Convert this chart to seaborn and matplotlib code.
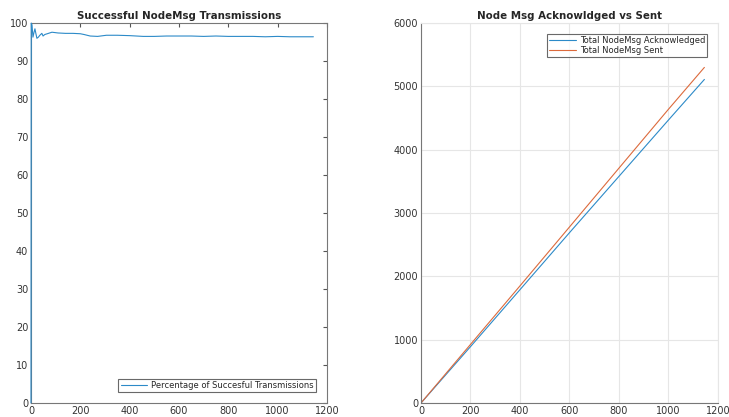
import numpy as np
import pandas as pd
import matplotlib
matplotlib.use("Agg")
import matplotlib.pyplot as plt
import seaborn as sns

# Data
t_pct = [0, 1, 4, 8, 12, 16, 20, 24, 30, 36, 44, 49, 56, 66, 85, 110, 140, 170, 200, 215,
         240, 270, 306, 350, 400, 455, 500, 550, 600, 650, 700, 750, 800, 850, 900, 950,
         1000, 1050, 1100, 1145]
pct = [0, 100, 99.5, 96.3, 97.5, 98.5, 97.2, 96.0, 96.3, 96.8, 97.3, 96.6, 97.0, 97.2,
       97.6, 97.4, 97.3, 97.3, 97.2, 97.0, 96.6, 96.5, 96.8, 96.8, 96.7, 96.5, 96.5, 96.6,
       96.6, 96.6, 96.5, 96.6, 96.5, 96.5, 96.5, 96.4, 96.5, 96.4, 96.4, 96.4]

t_tot = [0, 200, 400, 600, 800, 1000, 1145]
ack = [0, 890, 1790, 2690, 3580, 4470, 5110]
sent = [0, 925, 1850, 2780, 3710, 4640, 5300]

blue = "#2c8ac8"
orange = "#dc6a3c"

sns.set_style("white")
plt.rcParams["font.family"] = ["DejaVu Sans"]
plt.rcParams["font.size"] = 7

fig = plt.figure(figsize=(7.29, 4.17), dpi=100)
ax1 = fig.add_axes([0.0425, 0.0336, 0.406, 0.911])
ax2 = fig.add_axes([0.5775, 0.0336, 0.4074, 0.911])

# left: percentage
df1 = pd.DataFrame({"t": t_pct, "pct": pct})
sns.lineplot(data=df1, x="t", y="pct", ax=ax1, color=blue, linewidth=0.8,
             label="Percentage of Succesful Transmissions", zorder=3, clip_on=False)
ax1.set_xlim(0, 1200)
ax1.set_ylim(0, 100)
ax1.set_xticks(range(0, 1201, 200))
ax1.set_yticks(range(0, 101, 10))
ax1.set_xlabel("")
ax1.set_ylabel("")
ax1.set_title("Successful NodeMsg Transmissions", fontsize=7.4, fontweight="bold", pad=3)
ax1.tick_params(direction="in", length=3, colors="#555555", labelcolor="#333333",
                top=True, right=True, labelsize=7, pad=2)
for s in ax1.spines.values():
    s.set_color("#777777")
    s.set_linewidth(0.8)
leg1 = ax1.legend(loc="lower right", fancybox=False, fontsize=6, handlelength=3.2,
                  borderaxespad=1.3, borderpad=0.25, handletextpad=0.5)
leg1.get_frame().set_edgecolor("#444444")
leg1.get_frame().set_linewidth(0.8)

# right: totals
df2 = pd.DataFrame({"t": t_tot * 2, "val": ack + sent,
                    "series": ["Total NodeMsg Acknowledged"] * len(t_tot)
                    + ["Total NodeMsg Sent"] * len(t_tot)})
sns.lineplot(data=df2, x="t", y="val", hue="series", ax=ax2,
             palette=[blue, orange], linewidth=0.8)
ax2.set_xlim(0, 1200)
ax2.set_ylim(0, 6000)
ax2.set_xticks(range(0, 1201, 200))
ax2.set_yticks(range(0, 6001, 1000))
ax2.set_xlabel("")
ax2.set_ylabel("")
ax2.set_title("Node Msg Acknowldged vs Sent", fontsize=7.4, fontweight="bold", pad=3)
ax2.grid(True, color="#e6e6e6", linewidth=0.8)
ax2.tick_params(direction="in", length=3, colors="#555555", labelcolor="#333333",
                labelsize=7, pad=2)
ax2.spines["left"].set_color("#777777")
ax2.spines["bottom"].set_color("#777777")
ax2.spines["top"].set_color("#e6e6e6")
ax2.spines["right"].set_color("#e6e6e6")
leg2 = ax2.legend(loc="upper right", fancybox=False, fontsize=6, handlelength=3.2,
                  borderaxespad=1.3, borderpad=0.25, handletextpad=0.5,
                  title=None, labelspacing=0.1)
leg2.get_frame().set_edgecolor("#444444")
leg2.get_frame().set_linewidth(0.8)

fig.savefig("out.png", dpi=100)
